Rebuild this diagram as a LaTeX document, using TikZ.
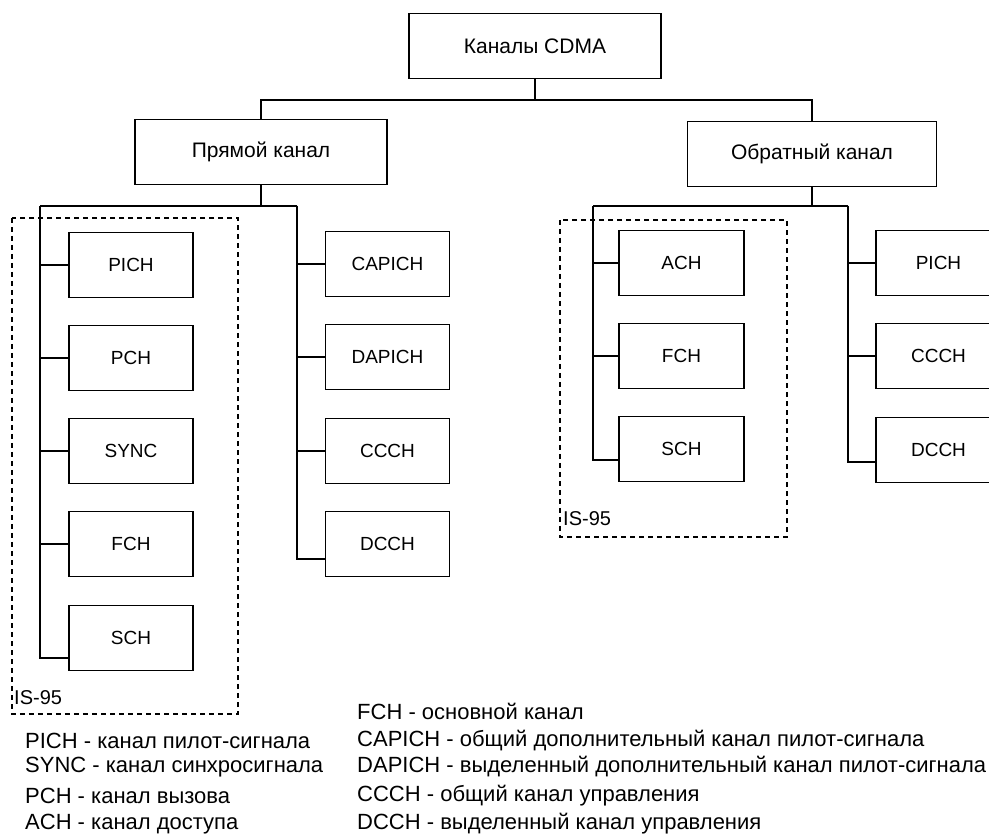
\documentclass[tikz,border=0pt]{standalone}
\usepackage{fontspec}
\setmainfont{Liberation Sans}
\begin{document}
\begin{tikzpicture}[x=1pt,y=-1pt,
  box/.style={draw, line width=1.4pt, minimum width=124pt, minimum height=65pt, inner sep=0pt, font=\fontsize{19}{21}\selectfont},
  bigbox/.style={box, minimum width=252pt, font=\fontsize{21}{23}\selectfont},
  conn/.style={line width=1.4pt},
  isdash/.style={line width=1.4pt, dash pattern=on 5pt off 4pt},
  lbl/.style={anchor=west, inner sep=0pt, font=\fontsize{22}{24}\selectfont},
  islbl/.style={anchor=west, inner sep=0pt, font=\fontsize{20}{22}\selectfont},
]
\clip (0,0) rectangle (989,834);
\fill[white] (0,0) rectangle (989,834);

% top level
\node[bigbox] (root) at (535,46) {Каналы CDMA};
\node[bigbox] (fwd) at (261,152) {Прямой канал};
\node[bigbox, minimum width=249pt] (rev) at (812,154) {Обратный канал};

\draw[conn] (root.south) -- ++(0,21) coordinate (rb) -| (fwd.north);
\draw[conn] (rb) -| (rev.north);

% forward channel
\node[box] (fpich) at (131,265) {PICH};
\node[box] (fpch) at (131,358) {PCH};
\node[box] (fsync) at (131,451) {SYNC};
\node[box] (ffch) at (131,544) {FCH};
\node[box] (fsch) at (131,638) {SCH};

\node[box] (fcapich) at (387.5,264) {CAPICH};
\node[box] (fdapich) at (387.5,357) {DAPICH};
\node[box] (fccch) at (387.5,451) {CCCH};
\node[box] (fdcch) at (387.5,544) {DCCH};

\coordinate (fl) at (40,206);
\coordinate (fr) at (297,206);
\draw[conn] (fwd.south) -- (fwd.south |- fl);
\draw[conn] (fl) -- (fr);
\draw[conn] (fl) |- (fpich.west);
\draw[conn] (fl) |- (fpch.west);
\draw[conn] (fl) |- (fsync.west);
\draw[conn] (fl) |- (ffch.west);
\draw[conn] (fl) |- ([yshift=-20pt]fsch.west);
\draw[conn] (fr) |- (fcapich.west);
\draw[conn] (fr) |- (fdapich.west);
\draw[conn] (fr) |- (fccch.west);
\draw[conn] (fr) |- ([yshift=-15pt]fdcch.west);

\draw[isdash] (12,218) rectangle (238,714);
\node[islbl] (is1) at (14,698) {IS-95};

% reverse channel
\node[box, minimum width=125pt] (rach) at (681.5,263) {ACH};
\node[box, minimum width=125pt] (rfch) at (681.5,356) {FCH};
\node[box, minimum width=125pt] (rsch) at (681.5,449) {SCH};

\node[box, minimum width=125pt] (rpich) at (938.5,263) {PICH};
\node[box, minimum width=125pt] (rccch) at (938.5,356) {CCCH};
\node[box, minimum width=125pt] (rdcch) at (938.5,450) {DCCH};

\coordinate (rl) at (593,206);
\coordinate (rr) at (848,206);
\draw[conn] (rev.south) -- (rev.south |- rl);
\draw[conn] (rl) -- (rr);
\draw[conn] (rl) |- (rach.west);
\draw[conn] (rl) |- (rfch.west);
\draw[conn] (rl) |- ([yshift=-11pt]rsch.west);
\draw[conn] (rr) |- (rpich.west);
\draw[conn] (rr) |- (rccch.west);
\draw[conn] (rr) |- ([yshift=-12pt]rdcch.west);

\draw[isdash] (560,220) rectangle (787,537);
\node[islbl] (is2) at (563,519) {IS-95};

% legend
\node[lbl] (l1) at (25,741) {PICH - канал пилот-сигнала};
\node[lbl] (l2) at (25,767) {SYNC - канал синхросигнала};
\node[lbl] (l3) at (25,796) {PCH - канал вызова};
\node[lbl] (l4) at (25,824) {ACH - канал доступа};

\node[lbl] (r0) at (357,711) {FCH - основной канал};
\node[lbl] (r1) at (357,741) {CAPICH - общий дополнительный канал пилот-сигнала};
\node[lbl] (r2) at (357,767) {DAPICH - выделенный дополнительный канал пилот-сигнала};
\node[lbl] (r3) at (357,796) {CCCH - общий канал управления};
\node[lbl] (r4) at (357,824) {DCCH - выделенный канал управления};
\end{tikzpicture}
\end{document}
